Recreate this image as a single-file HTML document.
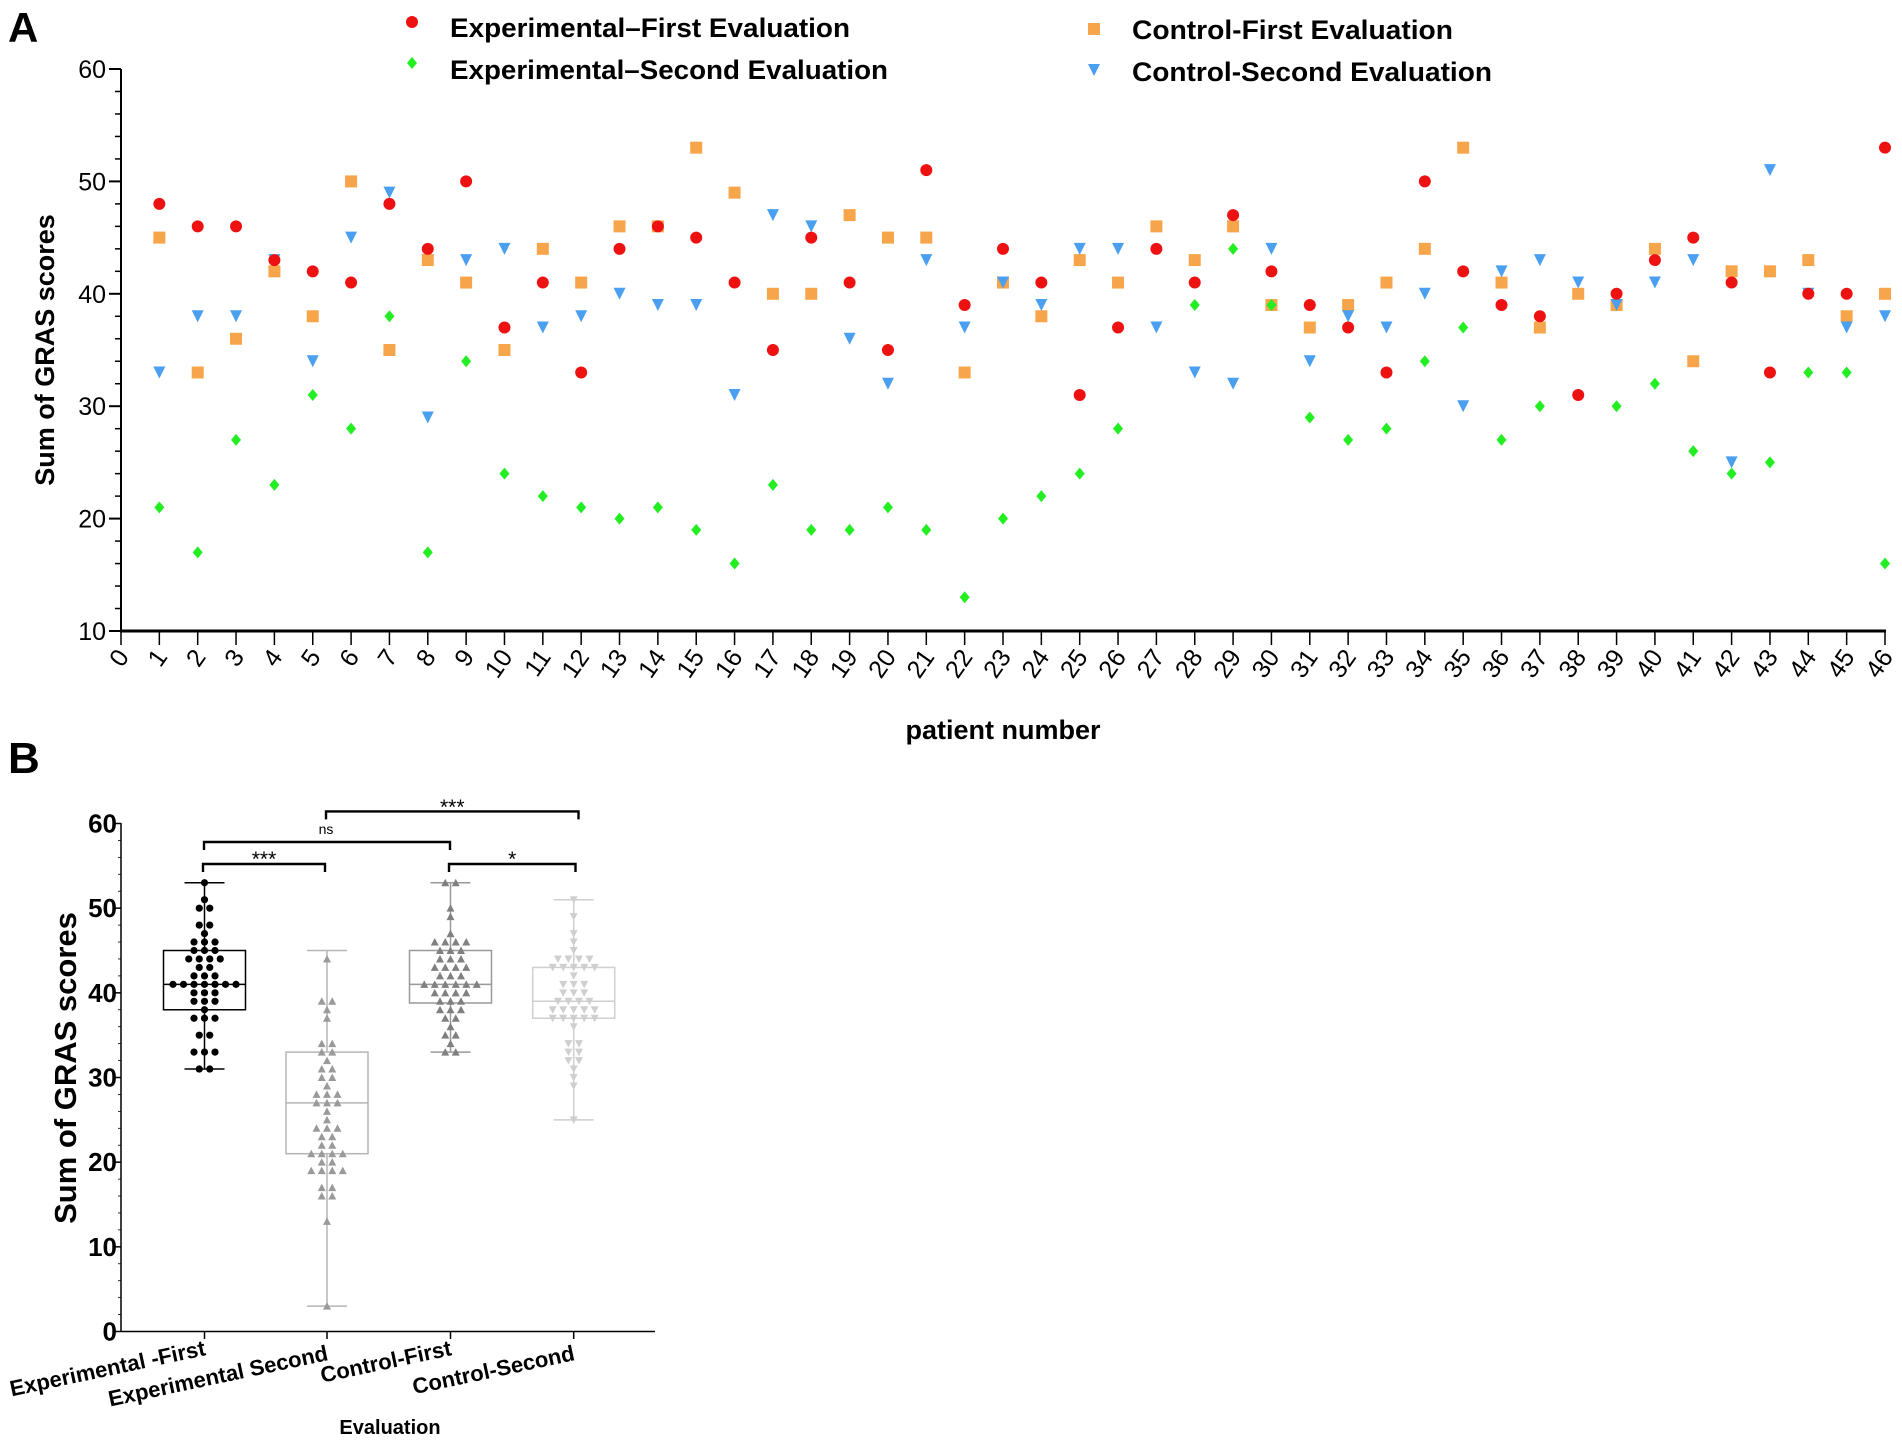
<!DOCTYPE html>
<html><head><meta charset="utf-8"><style>
html,body{margin:0;padding:0;background:#fff;}
svg{display:block;font-family:"Liberation Sans",Arial,sans-serif;}
</style></head><body>
<svg id="c" width="1902" height="1441" viewBox="0 0 1902 1441">
<g id="A"></g>
<g id="B"></g>
</svg>
<script>
const patients = Array.from({length:46},(_,i)=>i+1);
const expFirst = [48,46,46,43,42,41,48,44,50,37,41,33,44,46,45,41,35,45,41,35,51,39,44,41,31,37,44,41,47,42,39,37,33,50,42,39,38,31,40,43,45,41,33,40,40,53];
const expSecond = [21,17,27,23,31,28,38,17,34,24,22,21,20,21,19,16,23,19,19,21,19,13,20,22,24,28,3,39,44,39,29,27,28,34,37,27,30,31,30,32,26,24,25,33,33,16];
const ctrlFirst = [45,33,36,42,38,50,35,43,41,35,44,41,46,46,53,49,40,40,47,45,45,33,41,38,43,41,46,43,46,39,37,39,41,44,53,41,37,40,39,44,34,42,42,43,38,40];
const ctrlSecond = [33,38,38,43,34,45,49,29,43,44,37,38,40,39,39,31,47,46,36,32,43,37,41,39,44,44,37,33,32,44,34,38,37,40,30,42,43,41,39,41,43,25,51,40,37,38];
const yTicksA = [10,20,30,40,50,60];
const groupNames = ["Experimental -First","Experimental Second","Control-First","Control-Second"];
const boxMin = [31,3,33,25];
const boxQ1 = [38,21,38.8,37];
const boxMed = [41,27,41,39];
const boxQ3 = [45,33,45,43];
const boxMax = [53,45,53,51];
const yTicksB = [0,10,20,30,40,50,60];

const NS="http://www.w3.org/2000/svg";
function mk(parent,tag,attrs,text){const e=document.createElementNS(NS,tag);for(const k in attrs)e.setAttribute(k,attrs[k]);if(text!==undefined)e.textContent=text;parent.appendChild(e);return e;}

// ---------- Panel A ----------
const A=document.getElementById('A');
const xA=v=>121+(1885-121)*v/46;
const yA=v=>631-(631-69)*(v-10)/50;
let t;
t=mk(A,'text',{x:8,y:42,'font-size':42,'font-weight':'bold'},'A');


let ax=mk(A,'line',{x1:121,y1:69,x2:121,y2:632,stroke:'#000','stroke-width':2});


ax=mk(A,'line',{x1:120,y1:631,x2:1886,y2:631,stroke:'#000','stroke-width':3});


for(let v=10;v<=60;v+=2){const maj=(v%10===0);mk(A,'line',{x1:maj?109:115,y1:yA(v),x2:121,y2:yA(v),stroke:'#000','stroke-width':maj?2:1.5});}
yTicksA.forEach(v=>{const e=mk(A,'text',{x:106,y:yA(v)+9,'font-size':25,'text-anchor':'end'},String(v));

});
for(let i=0;i<=46;i++){mk(A,'line',{x1:xA(i),y1:631,x2:xA(i),y2:645,stroke:'#000','stroke-width':1.5});
const e=mk(A,'text',{x:0,y:0,'font-size':25,'text-anchor':'end',transform:`translate(${xA(i)+9},${657}) rotate(-55)`},String(i));

}
t=mk(A,'text',{x:0,y:0,'font-size':27,'font-weight':'bold','text-anchor':'middle',transform:'translate(54,350) rotate(-90)'},'Sum of GRAS scores');


t=mk(A,'text',{x:1003,y:739,'font-size':27,'font-weight':'bold','text-anchor':'middle'},'patient number');



function marker(g,type,cx,cy,col){
 if(type==='circle') return mk(g,'circle',{cx:cx,cy:cy,r:6,fill:col});
 if(type==='square') return mk(g,'rect',{x:cx-6,y:cy-6,width:12,height:12,fill:col});
 if(type==='down') return mk(g,'path',{d:`M${cx-6},${cy-6}L${cx+6},${cy-6}L${cx},${cy+6}Z`,fill:col});
 if(type==='diamond') return mk(g,'path',{d:`M${cx},${cy-6}L${cx+5},${cy}L${cx},${cy+6}L${cx-5},${cy}Z`,fill:col});
}
const seriesA=[
 {d:ctrlFirst,type:'square',col:'#f7a54a',name:'control-first'},
 {d:ctrlSecond,type:'down',col:'#4a9ff0',name:'control-second'},
 {d:expSecond,type:'diamond',col:'#22ee22',name:'experimental-second'},
 {d:expFirst,type:'circle',col:'#ee1111',name:'experimental-first'}];
seriesA.forEach(s=>{const g=mk(A,'g',{});
 
 
 s.d.forEach((v,i)=>{if(v<10||v>60)return;const m=marker(g,s.type,xA(patients[i]),yA(v),s.col);
 
 });});
const leg=[
 {type:'circle',col:'#ee1111',x:412,y:22,tx:450,ty:37,label:'Experimental\u2013First Evaluation',w:400},
 {type:'diamond',col:'#22ee22',x:412,y:63,tx:450,ty:79,label:'Experimental\u2013Second Evaluation',w:438},
 {type:'square',col:'#f7a54a',x:1094,y:29,tx:1132,ty:39,label:'Control-First Evaluation',w:321},
 {type:'down',col:'#4a9ff0',x:1094,y:70,tx:1132,ty:81,label:'Control-Second Evaluation',w:360}];
leg.forEach(l=>{const g=mk(A,'g',{});
 
 
 marker(g,l.type,l.x,l.y,l.col);
 mk(g,'text',{x:l.tx,y:l.ty,'font-size':27,'font-weight':'bold',textLength:l.w,lengthAdjust:'spacingAndGlyphs'},l.label);});

// ---------- Panel B ----------
const B=document.getElementById('B');
const catX=[204.5,327,450.5,573.7];
const yB=v=>1331.5-(1331.5-823.5)*v/60;
t=mk(B,'text',{x:8,y:773,'font-size':44,'font-weight':'bold'},'B');


ax=mk(B,'line',{x1:121,y1:823,x2:121,y2:1332,stroke:'#000','stroke-width':1.5});


ax=mk(B,'line',{x1:121,y1:1331.5,x2:655,y2:1331.5,stroke:'#000','stroke-width':1.5});


for(let v=0;v<=60;v+=2){const maj=(v%10===0);mk(B,'line',{x1:maj?115:118,y1:yB(v),x2:121,y2:yB(v),stroke:'#000','stroke-width':maj?1.5:0.8});}
yTicksB.forEach(v=>{const e=mk(B,'text',{x:117,y:yB(v)+9,'font-size':26,'font-weight':'bold','text-anchor':'end'},String(v));

});
catX.forEach(x=>mk(B,'line',{x1:x,y1:1331.5,x2:x,y2:1339,stroke:'#000','stroke-width':1.5}));
t=mk(B,'text',{x:0,y:0,'font-size':31,'font-weight':'bold','text-anchor':'middle',transform:'translate(76,1068) rotate(-90)'},'Sum of GRAS scores');


groupNames.forEach((n,i)=>{const e=mk(B,'text',{x:0,y:0,'font-size':22,'font-weight':'bold','text-anchor':'end',transform:`translate(${catX[i]+2},${1355+(i%2)*5}) rotate(-12)`},n);

});
t=mk(B,'text',{x:390,y:1434,'font-size':20,'font-weight':'bold','text-anchor':'middle'},'Evaluation');



const groupsData=[expFirst,expSecond,ctrlFirst,ctrlSecond];
const boxCol=['#000','#b5b5b5','#999','#cfcfcf'];
const ptCol=['#000','#9a9a9a','#808080','#cfcfcf'];
const ptType=['circle','up','up','down'];
groupsData.forEach((d,i)=>{
 const g=mk(B,'g',{});
 
 
 const cx=catX[i],hw=41,c=boxCol[i],sw=1.5;
 mk(g,'line',{x1:cx,y1:yB(boxMax[i]),x2:cx,y2:yB(boxQ3[i]),stroke:c,'stroke-width':sw});
 mk(g,'line',{x1:cx,y1:yB(boxQ1[i]),x2:cx,y2:yB(boxMin[i]),stroke:c,'stroke-width':sw});
 mk(g,'line',{x1:cx-20,y1:yB(boxMax[i]),x2:cx+20,y2:yB(boxMax[i]),stroke:c,'stroke-width':sw});
 mk(g,'line',{x1:cx-20,y1:yB(boxMin[i]),x2:cx+20,y2:yB(boxMin[i]),stroke:c,'stroke-width':sw});
 mk(g,'rect',{x:cx-hw,y:yB(boxQ3[i]),width:2*hw,height:yB(boxQ1[i])-yB(boxQ3[i]),fill:'none',stroke:c,'stroke-width':sw});
 mk(g,'line',{x1:cx-hw,y1:yB(boxMed[i]),x2:cx+hw,y2:yB(boxMed[i]),stroke:c,'stroke-width':sw});
 const counts={};d.forEach(v=>counts[v]=(counts[v]||0)+1);
 const seen={};
 d.forEach(v=>{const n=counts[v];const k=(seen[v]=(seen[v]||0)+1)-1;
  const px=cx+(k-(n-1)/2)*10.5,py=yB(v);let m;
  if(ptType[i]==='circle') m=mk(g,'circle',{cx:px,cy:py,r:3.6,fill:ptCol[i]});
  else if(ptType[i]==='up') m=mk(g,'path',{d:`M${px-4},${py+3.5}L${px+4},${py+3.5}L${px},${py-4}Z`,fill:ptCol[i]});
  else m=mk(g,'path',{d:`M${px-4},${py-3.5}L${px+4},${py-3.5}L${px},${py+4}Z`,fill:ptCol[i]});
  
  });
});
function bracket(x1,x2,y,drop,label,fs,ly){
 const g=mk(B,'g',{});
 
 
 mk(g,'path',{d:`M${x1},${y+drop}L${x1},${y}L${x2},${y}L${x2},${y+drop}`,fill:'none',stroke:'#000','stroke-width':2.4});
 if(label) mk(g,'text',{x:(x1+x2)/2,y:ly,'font-size':fs,'text-anchor':'middle'},label);
}
bracket(203,325,864,8,'***',21,866);
bracket(204,450,842,8,'',14,0);
t=mk(B,'text',{x:326,y:834,'font-size':14,'text-anchor':'middle'},'ns');


bracket(326,578.5,811.4,8,'***',21,814);
bracket(449,575.5,864,8,'*',21,866);
</script>
</body></html>
